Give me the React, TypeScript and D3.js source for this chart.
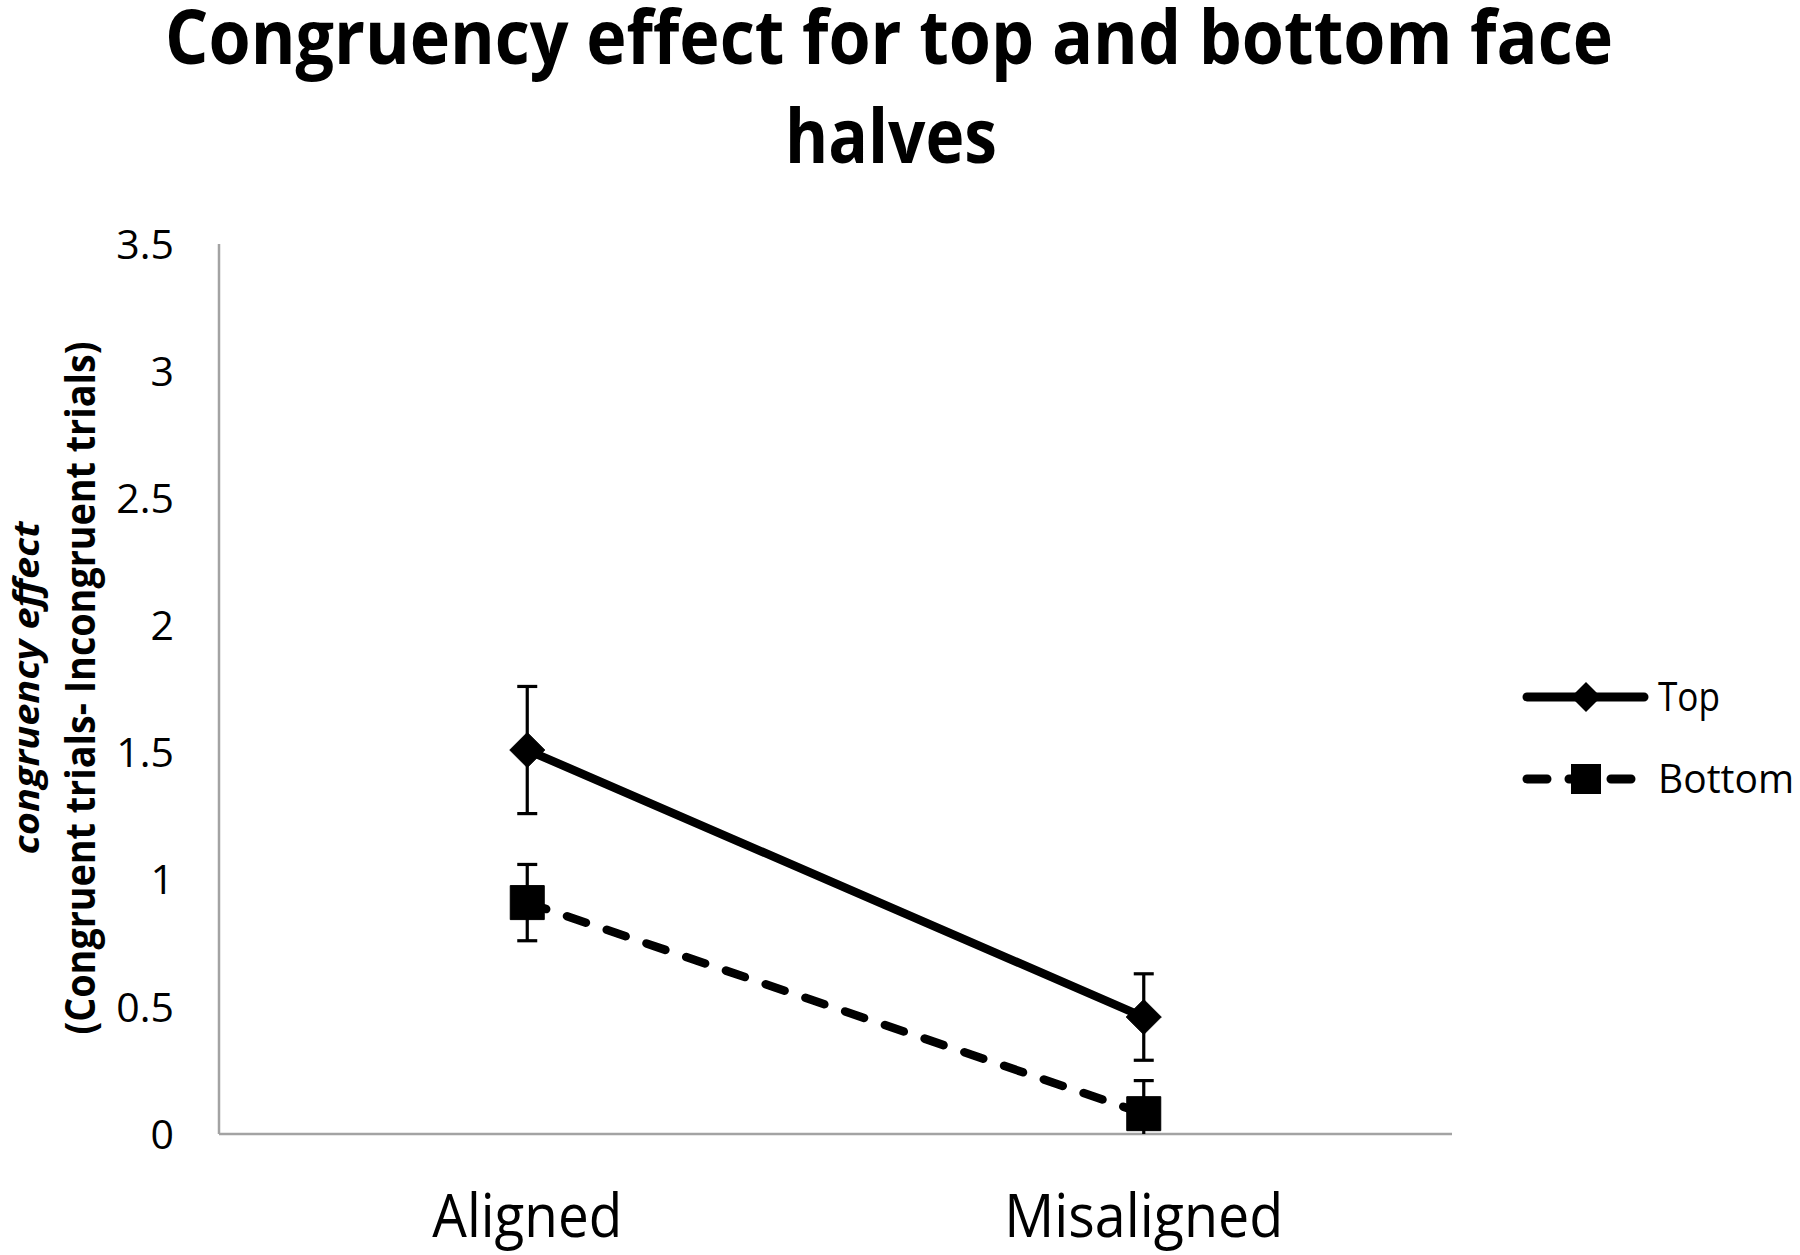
import React from "react";
import * as d3 from "d3";

const categories = ["Aligned", "Misaligned"];
const seriesNames = ["Top", "Bottom"];
const topValues = [1.51, 0.46];
const topErrors = [0.25, 0.17];
const bottomValues = [0.91, 0.08];
const bottomErrors = [0.15, 0.13];
const yTicks = [0, 0.5, 1, 1.5, 2, 2.5, 3, 3.5];
const titleLines = ["Congruency effect for top and bottom face", "halves"];
const yTitleLines = ["congruency effect", "(Congruent trials- Incongruent trials)"];

const W = 1800;
const H = 1255;
const left = 219;
const right = 1452;
const top = 244;
const bottom = 1134;
const FONT = "'Open Sans', 'Noto Sans', sans-serif";

export default function App() {
  const x = d3.scalePoint<string>().domain(categories).range([left, right]).padding(0.5);
  const y = d3.scaleLinear().domain([0, 3.5]).range([bottom, top]);

  const series = [
    { name: seriesNames[0], values: topValues, errors: topErrors, dash: undefined as string | undefined, marker: "diamond" },
    { name: seriesNames[1], values: bottomValues, errors: bottomErrors, dash: "20 22", marker: "square" },
  ];

  const line = d3
    .line<number>()
    .x((_, i) => x(categories[i]) as number)
    .y((d) => y(d));

  const markerPath = (kind: string, cx: number, cy: number, s: number) => {
    if (kind === "diamond") {
      return `M${cx},${cy - s}L${cx + s},${cy}L${cx},${cy + s}L${cx - s},${cy}Z`;
    }
    return `M${cx - s},${cy - s}H${cx + s}V${cy + s}H${cx - s}Z`;
  };

  const legendY = [697, 779];

  return (
    <svg
      width={W}
      height={H}
      viewBox={`0 0 ${W} ${H}`}
      style={{ position: "absolute", left: 0, top: 0, background: "#fff" }}
      fontFamily={FONT}
    >
      <rect x={0} y={0} width={W} height={H} fill="#fff" />
      {/* Title */}
      <text x={889} y={64} textAnchor="middle" fontWeight="bold" fontSize={75} textLength={1448} lengthAdjust="spacingAndGlyphs">
        {titleLines[0]}
      </text>
      <text x={891} y={163} textAnchor="middle" fontWeight="bold" fontSize={75} textLength={212} lengthAdjust="spacingAndGlyphs">
        {titleLines[1]}
      </text>

      {/* Y axis title */}
      <g transform="translate(39,688) rotate(-90)">
        <text x={0} y={0} textAnchor="middle" fontWeight="bold" fontStyle="italic" fontSize={36} textLength={333} lengthAdjust="spacingAndGlyphs">
          {yTitleLines[0]}
        </text>
      </g>
      <g transform="translate(95,688) rotate(-90)">
        <text x={0} y={0} textAnchor="middle" fontWeight="bold" fontSize={41} textLength={693} lengthAdjust="spacingAndGlyphs">
          {yTitleLines[1]}
        </text>
      </g>

      {/* Y tick labels */}
      {yTicks.map((t) => (
        <text key={t} x={174} y={y(t)} dy="0.36em" textAnchor="end" fontSize={41} fill="#000">
          {String(t)}
        </text>
      ))}

      {/* Axes */}
      <line x1={left} x2={left} y1={top} y2={bottom} stroke="#a3a3a3" strokeWidth={2.5} />
      <line x1={left} x2={right} y1={bottom} y2={bottom} stroke="#a3a3a3" strokeWidth={2.5} />

      {/* X labels */}
      {categories.map((c, i) => (
        <text key={c} x={x(c)} y={1237} textAnchor="middle" fontSize={60} textLength={i === 0 ? 190 : 279} lengthAdjust="spacingAndGlyphs">
          {c}
        </text>
      ))}

      {/* Error bars */}
      {series.map((s) =>
        s.values.map((v, i) => {
          const cx = x(categories[i]) as number;
          const hi = y(v + s.errors[i]);
          const lo = y(Math.max(0, v - s.errors[i]));
          const loClipped = v - s.errors[i] < 0;
          return (
            <g key={s.name + i} stroke="#000" strokeWidth={3.2}>
              <line x1={cx} x2={cx} y1={hi} y2={lo} />
              <line x1={cx - 10} x2={cx + 10} y1={hi} y2={hi} />
              {!loClipped && <line x1={cx - 10} x2={cx + 10} y1={lo} y2={lo} />}
            </g>
          );
        })
      )}

      {/* Lines */}
      {series.map((s) => (
        <path
          key={s.name}
          d={line(s.values) || ""}
          fill="none"
          stroke="#000"
          strokeWidth={8.5}
          strokeDasharray={s.dash}
          strokeLinecap="round"
        />
      ))}

      {/* Markers */}
      {series.map((s) =>
        s.values.map((v, i) => (
          <path
            key={s.name + "m" + i}
            d={markerPath(s.marker, x(categories[i]) as number, y(v), s.marker === "diamond" ? 17.5 : 17)}
            fill="#000"
            stroke="#000"
            strokeWidth={1}
            strokeLinejoin="round"
          />
        ))
      )}

      {/* Legend */}
      {series.map((s, i) => (
        <g key={"leg" + s.name}>
          <line
            x1={1527}
            x2={1644}
            y1={legendY[i]}
            y2={legendY[i]}
            stroke="#000"
            strokeWidth={9}
            strokeLinecap="round"
            strokeDasharray={s.dash ? "20 22" : undefined}
          />
          <path
            d={markerPath(s.marker, 1586, legendY[i], 15)}
            fill="#000"
          />
          <text x={1658} y={legendY[i] + 14} fontSize={40} textLength={i === 0 ? 62 : 136} lengthAdjust="spacingAndGlyphs">
            {s.name}
          </text>
        </g>
      ))}
    </svg>
  );
}
